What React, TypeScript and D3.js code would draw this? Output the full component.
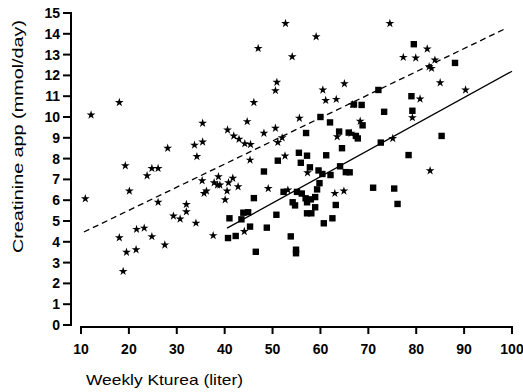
import React from 'react';
import * as d3 from 'd3';

// stars: [Kturea, creatinine]
const starPoints: [number, number][] = [
  [10.9, 6.07], [12.1, 10.1], [18.0, 10.7], [18.0, 4.2], [18.8, 2.58], [19.25, 7.66],
  [19.5, 3.5], [20.1, 6.44], [21.5, 3.62], [21.6, 4.6], [23.2, 4.66], [23.8, 7.18],
  [24.8, 7.53], [24.8, 4.25], [26.1, 7.53], [26.1, 5.9], [27.5, 3.85], [28.1, 8.5],
  [29.3, 5.24], [30.7, 5.1], [32.0, 5.8], [32.0, 5.45], [33.7, 8.65], [34.0, 4.9],
  [34.2, 8.1], [35.4, 9.7], [35.4, 8.8], [35.3, 6.94], [35.7, 6.33], [36.2, 6.44],
  [37.6, 4.3], [37.8, 6.84], [38.5, 6.73], [38.7, 7.13], [39.0, 6.73], [40.5, 6.44],
  [40.1, 6.02], [40.6, 9.38], [40.8, 6.84], [41.7, 7.06], [41.9, 9.09], [42.8, 6.65],
  [43.0, 8.93], [44.1, 4.5], [44.2, 8.72], [44.7, 9.78], [45.3, 7.93], [45.4, 8.68],
  [46.1, 10.7], [47.0, 13.3], [48.2, 9.22], [49.1, 6.56], [50.6, 11.27], [50.6, 9.46],
  [50.9, 11.67], [51.1, 8.78], [52.0, 9.0], [52.6, 8.13], [52.7, 14.5], [53.2, 6.49],
  [54.1, 12.9], [55.6, 9.94], [57.3, 7.32], [59.1, 13.86], [60.5, 11.3], [61.1, 10.8],
  [63.0, 6.33], [63.3, 10.85], [63.5, 9.05], [64.9, 6.44], [65.0, 11.6], [66.4, 9.22],
  [66.7, 10.6], [68.3, 9.8], [74.5, 14.5], [75.1, 8.97], [77.3, 12.87], [79.2, 9.97],
  [79.9, 12.84], [80.8, 10.87], [82.3, 13.27], [82.7, 12.42], [83.2, 12.34], [82.9, 7.42],
  [83.9, 12.74], [85.0, 11.65], [90.3, 11.3],
];

// squares
const squarePoints: [number, number][] = [
  [40.7, 4.18], [41.0, 5.13], [42.3, 4.28], [43.5, 5.08], [43.9, 5.4], [44.9, 5.42],
  [45.3, 4.73], [46.1, 6.1], [46.5, 3.52], [48.2, 7.38], [48.8, 4.68], [50.8, 5.3],
  [51.1, 7.9], [52.3, 6.4], [53.8, 4.26], [54.2, 5.9], [54.7, 5.75], [54.9, 3.62],
  [54.9, 3.45], [55.1, 6.4], [55.5, 8.28], [55.9, 7.8], [56.1, 6.32], [56.9, 6.09],
  [57.0, 9.23], [57.2, 8.14], [57.2, 5.9], [57.2, 5.37], [57.8, 7.58], [58.0, 6.04],
  [58.1, 5.37], [58.9, 6.15], [58.9, 5.66], [59.3, 6.52], [59.6, 7.43], [59.8, 6.82],
  [60.0, 10.0], [60.4, 7.26], [60.7, 4.89], [61.2, 8.16], [62.0, 9.74], [62.1, 7.21],
  [62.5, 5.13], [63.2, 5.77], [63.9, 9.3], [64.1, 7.63], [64.5, 8.5], [65.3, 7.35],
  [65.9, 9.25], [66.1, 7.34], [67.0, 10.6], [67.4, 9.09], [67.8, 8.97], [68.6, 10.58],
  [68.8, 9.6], [71.0, 6.6], [72.1, 11.3], [72.6, 8.77], [73.3, 10.25], [75.4, 6.56],
  [76.1, 5.82], [78.4, 8.17], [79.0, 11.0], [79.2, 10.3], [79.5, 13.5], [85.3, 9.09],
  [88.1, 12.6],
];

// regression lines (end points)
const dashedFit: [number, number][] = [[10.6, 4.47], [98.9, 14.28]];
const solidFit: [number, number][] = [[40.5, 4.66], [100, 12.2]];

const xTicks = [10, 20, 30, 40, 50, 60, 70, 80, 90, 100];
const yTicks = [0, 1, 2, 3, 4, 5, 6, 7, 8, 9, 10, 11, 12, 13, 14, 15];

const xTitle = 'Weekly Kturea (liter)';
const yTitle = 'Creatinine app (mmol/day)';

const font = 'Arial, "Liberation Sans", Helvetica, sans-serif';

export default function App() {
  const x = d3.scaleLinear().domain([10, 100]).range([81, 512]);
  const y = d3.scaleLinear().domain([0, 15]).range([325, 13]);
  const xAxisY = 327;
  const yAxisX = 71;

  const line = d3.line<[number, number]>().x((d) => x(d[0])).y((d) => y(d[1]));
  const star = d3.symbol().type(d3.symbolStar).size(24)();

  return (
    <svg
      width={523}
      height={392}
      style={{ position: 'absolute', left: 0, top: 0, background: '#fff' }}
    >
      {/* x axis */}
      <g stroke="#000" strokeWidth={2} strokeLinecap="square">
        <line x1={x(10)} x2={x(100)} y1={xAxisY} y2={xAxisY} />
        {xTicks.map((t) => (
          <line key={t} x1={x(t)} x2={x(t)} y1={xAxisY} y2={xAxisY + 6} />
        ))}
      </g>
      <g fontFamily={font} fontSize={14} fontWeight="bold" textAnchor="middle">
        {xTicks.map((t) => (
          <text key={t} x={x(t)} y={354}>{t}</text>
        ))}
      </g>

      {/* y axis */}
      <g stroke="#000" strokeWidth={2} strokeLinecap="square">
        <line x1={yAxisX} x2={yAxisX} y1={y(0)} y2={y(15)} />
        {yTicks.map((t) => (
          <line key={t} x1={yAxisX - 7} x2={yAxisX} y1={y(t)} y2={y(t)} />
        ))}
      </g>
      <g fontFamily={font} fontSize={14} fontWeight="bold" textAnchor="end">
        {yTicks.map((t) => (
          <text key={t} x={yAxisX - 11} y={y(t)} dy="0.35em">{t}</text>
        ))}
      </g>

      {/* titles */}
      <text
        x={86}
        y={385}
        fontFamily={font}
        fontSize={15}
        fill="#000"
        textLength={157}
        lengthAdjust="spacingAndGlyphs"
      >
        {xTitle}
      </text>
      <text
        transform="translate(23,253) rotate(-90)"
        fontFamily={font}
        fontSize={14}
        fill="#000"
        textLength={233}
        lengthAdjust="spacingAndGlyphs"
      >
        {yTitle}
      </text>

      {/* fit lines */}
      <path d={line(dashedFit) ?? ''} fill="none" stroke="#000" strokeWidth={1.3} strokeDasharray="6,4" />
      <path d={line(solidFit) ?? ''} fill="none" stroke="#000" strokeWidth={1.3} />

      {/* points */}
      <g fill="#000">
        {starPoints.map((d, i) => (
          <path key={`s${i}`} d={star ?? ''} transform={`translate(${x(d[0])},${y(d[1])})`} />
        ))}
        {squarePoints.map((d, i) => (
          <rect key={`q${i}`} x={x(d[0]) - 3.2} y={y(d[1]) - 3.2} width={6.4} height={6.4} />
        ))}
      </g>
    </svg>
  );
}
